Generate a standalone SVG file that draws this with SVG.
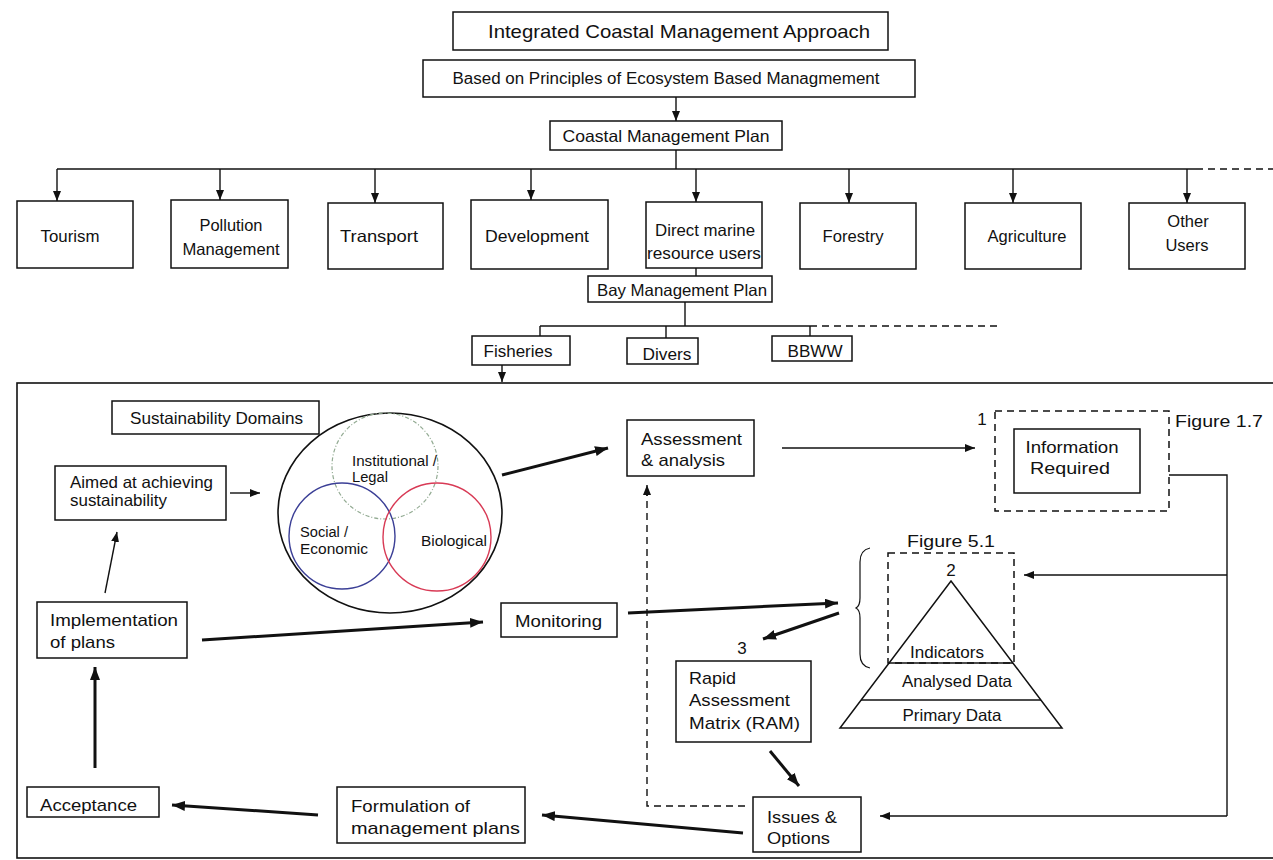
<svg xmlns="http://www.w3.org/2000/svg" width="1273" height="860" viewBox="0 0 1273 860">
<defs>
<marker id="a" markerUnits="userSpaceOnUse" markerWidth="10" markerHeight="8" refX="10" refY="4" orient="auto"><path d="M0,0 L10,4 L0,8 z" fill="#111"/></marker>
<marker id="b" markerUnits="userSpaceOnUse" markerWidth="13" markerHeight="10" refX="13" refY="5" orient="auto"><path d="M0,0 L13,5 L0,10 z" fill="#111"/></marker>
<style>
text{font-family:"Liberation Sans",Arial,sans-serif;fill:#111}
.box{fill:#fff;stroke:#111;stroke-width:1.5}
.dbox{fill:none;stroke:#111;stroke-width:1.5;stroke-dasharray:7 5}
.ln{fill:none;stroke:#111;stroke-width:1.4}
.th{fill:none;stroke:#111;stroke-width:3}
.dl{fill:none;stroke:#111;stroke-width:1.4;stroke-dasharray:7 5}
.t16{font-size:16.5px}
.t17{font-size:17px}
.t14{font-size:14px}
.t15{font-size:15px}
</style>
</defs>
<rect width="1273" height="860" fill="#fff"/>

<g id="connectors">
<line class="ln" x1="676" y1="97" x2="676" y2="121" marker-end="url(#a)"/>
<line class="ln" x1="676" y1="150" x2="676" y2="169"/>
<line class="ln" x1="57" y1="169" x2="1196" y2="169"/>
<line class="dl" x1="1196" y1="169" x2="1273" y2="169"/>
<line class="ln" x1="57" y1="169" x2="57" y2="201" marker-end="url(#a)"/>
<line class="ln" x1="220" y1="169" x2="220" y2="200" marker-end="url(#a)"/>
<line class="ln" x1="375" y1="169" x2="375" y2="203" marker-end="url(#a)"/>
<line class="ln" x1="531" y1="169" x2="531" y2="200" marker-end="url(#a)"/>
<line class="ln" x1="696" y1="169" x2="696" y2="202" marker-end="url(#a)"/>
<line class="ln" x1="849" y1="169" x2="849" y2="203" marker-end="url(#a)"/>
<line class="ln" x1="1013" y1="169" x2="1013" y2="203" marker-end="url(#a)"/>
<line class="ln" x1="1187" y1="169" x2="1187" y2="203" marker-end="url(#a)"/>
<line class="ln" x1="696" y1="268" x2="696" y2="276"/>
<line class="ln" x1="685" y1="302" x2="685" y2="326"/>
<line class="ln" x1="540" y1="326" x2="810" y2="326"/>
<line class="dl" x1="810" y1="326" x2="1000" y2="326"/>
<line class="ln" x1="540" y1="326" x2="540" y2="336"/>
<line class="ln" x1="666" y1="326" x2="666" y2="338"/>
<line class="ln" x1="810" y1="326" x2="810" y2="336"/>
<line class="ln" x1="502" y1="365" x2="502" y2="382" marker-end="url(#a)"/>

<line class="ln" x1="230" y1="493" x2="260" y2="493" marker-end="url(#a)"/>
<line class="th" x1="502" y1="475" x2="608" y2="448" marker-end="url(#b)"/>
<line class="ln" x1="782" y1="448" x2="975" y2="448" marker-end="url(#a)"/>
<line class="ln" x1="105" y1="593" x2="117" y2="532" marker-end="url(#a)"/>
<line class="th" x1="202" y1="640" x2="483" y2="622" marker-end="url(#b)"/>
<line class="th" x1="628" y1="613" x2="838" y2="603" marker-end="url(#b)"/>
<line class="th" x1="839" y1="613" x2="763" y2="639" marker-end="url(#b)"/>
<line class="th" x1="770" y1="751" x2="799" y2="786" marker-end="url(#b)"/>
<line class="th" x1="743" y1="833" x2="542" y2="815" marker-end="url(#b)"/>
<line class="th" x1="318" y1="815" x2="172" y2="805" marker-end="url(#b)"/>
<line class="th" x1="95" y1="768" x2="95" y2="667" marker-end="url(#b)"/>
<polyline class="dl" points="745,806 647,806 647,494"/>
<line class="ln" x1="647" y1="496" x2="647" y2="485" marker-end="url(#a)"/>
<polyline class="ln" points="1169,475 1227,475 1227,816"/>
<line class="ln" x1="1227" y1="575" x2="1024" y2="575" marker-end="url(#a)"/>
<line class="ln" x1="1227" y1="816" x2="880" y2="816" marker-end="url(#a)"/>
</g>

<g id="title"><rect class="box" x="453" y="12" width="435" height="38"/><text x="679" y="38" text-anchor="middle" font-size="19" textLength="382" lengthAdjust="spacingAndGlyphs">Integrated Coastal Management Approach</text></g>
<g id="principles"><rect class="box" x="423" y="60" width="492" height="37"/><text x="666" y="84" text-anchor="middle" font-size="16" textLength="427" lengthAdjust="spacingAndGlyphs">Based on Principles of Ecosystem Based Managmement</text></g>
<g id="coastal-plan"><rect class="box" x="550" y="121" width="232" height="29"/><text x="666" y="142" text-anchor="middle" font-size="16.5" textLength="207" lengthAdjust="spacingAndGlyphs">Coastal Management Plan</text></g>

<g id="tourism"><rect class="box" x="17" y="201" width="116" height="67"/><text class="t16" x="70" y="242" text-anchor="middle" textLength="59" lengthAdjust="spacingAndGlyphs">Tourism</text></g>
<g id="pollution"><rect class="box" x="171" y="200" width="117" height="68"/><text class="t16" x="231" y="231" text-anchor="middle" textLength="63" lengthAdjust="spacingAndGlyphs">Pollution</text><text class="t16" x="231" y="255" text-anchor="middle" textLength="97" lengthAdjust="spacingAndGlyphs">Management</text></g>
<g id="transport"><rect class="box" x="328" y="203" width="115" height="66"/><text class="t16" x="379" y="242" text-anchor="middle" textLength="78" lengthAdjust="spacingAndGlyphs">Transport</text></g>
<g id="development"><rect class="box" x="471" y="200" width="137" height="69"/><text class="t16" x="537" y="242" text-anchor="middle" textLength="104" lengthAdjust="spacingAndGlyphs">Development</text></g>
<g id="direct-marine"><rect class="box" x="646" y="202" width="116" height="66"/><text class="t16" x="705" y="236" text-anchor="middle" textLength="100" lengthAdjust="spacingAndGlyphs">Direct marine</text><text class="t16" x="704" y="259" text-anchor="middle" textLength="114" lengthAdjust="spacingAndGlyphs">resource users</text></g>
<g id="forestry"><rect class="box" x="800" y="203" width="116" height="66"/><text class="t16" x="853" y="242" text-anchor="middle" textLength="61" lengthAdjust="spacingAndGlyphs">Forestry</text></g>
<g id="agriculture"><rect class="box" x="965" y="203" width="116" height="66"/><text class="t16" x="1027" y="242" text-anchor="middle" textLength="79" lengthAdjust="spacingAndGlyphs">Agriculture</text></g>
<g id="other-users"><rect class="box" x="1129" y="203" width="116" height="66"/><text class="t16" x="1188" y="227" text-anchor="middle">Other</text><text class="t16" x="1187" y="251" text-anchor="middle">Users</text></g>

<g id="bay-plan"><rect class="box" x="588" y="276" width="184" height="26"/><text x="682" y="296" text-anchor="middle" font-size="16.5" textLength="170" lengthAdjust="spacingAndGlyphs">Bay Management Plan</text></g>
<g id="fisheries"><rect class="box" x="472" y="336" width="98" height="29"/><text class="t16" x="518" y="357" text-anchor="middle" textLength="69" lengthAdjust="spacingAndGlyphs">Fisheries</text></g>
<g id="divers"><rect class="box" x="627" y="338" width="71" height="26"/><text class="t16" x="667" y="360" text-anchor="middle" textLength="49" lengthAdjust="spacingAndGlyphs">Divers</text></g>
<g id="bbww"><rect class="box" x="772" y="336" width="80" height="25"/><text class="t16" x="815" y="357" text-anchor="middle" textLength="55" lengthAdjust="spacingAndGlyphs">BBWW</text></g>

<g id="frame"><rect x="17" y="383" width="1270" height="475" fill="none" stroke="#111" stroke-width="1.6"/></g>

<g id="sustainability-domains"><rect class="box" x="112" y="401" width="207" height="33"/><text class="t16" x="130" y="424" textLength="173" lengthAdjust="spacingAndGlyphs">Sustainability Domains</text></g>
<g id="aimed"><rect class="box" x="55" y="466" width="171" height="54"/><text class="t16" x="70" y="488" textLength="143" lengthAdjust="spacingAndGlyphs">Aimed at achieving</text><text class="t16" x="70" y="506" textLength="97" lengthAdjust="spacingAndGlyphs">sustainability</text></g>
<g id="domains">
<ellipse cx="390" cy="513" rx="112" ry="100" fill="none" stroke="#111" stroke-width="1.6"/>
<circle cx="385" cy="466" r="53" fill="none" stroke="#93ab93" stroke-width="1.2" stroke-dasharray="4 2 1 2"/>
<circle cx="342" cy="536" r="53" fill="none" stroke="#3b3f96" stroke-width="1.4"/>
<circle cx="437" cy="537" r="54" fill="none" stroke="#d83a55" stroke-width="1.4"/>
<text class="t14" x="352" y="466" textLength="85" lengthAdjust="spacingAndGlyphs">Institutional /</text>
<text class="t14" x="352" y="482" textLength="36" lengthAdjust="spacingAndGlyphs">Legal</text>
<text class="t14" x="300" y="537" textLength="48" lengthAdjust="spacingAndGlyphs">Social /</text>
<text class="t14" x="300" y="554" textLength="68" lengthAdjust="spacingAndGlyphs">Economic</text>
<text class="t14" x="421" y="546" textLength="66" lengthAdjust="spacingAndGlyphs">Biological</text>
</g>
<g id="assessment"><rect class="box" x="627" y="420" width="127" height="56"/><text class="t17" x="641" y="445" textLength="101" lengthAdjust="spacingAndGlyphs">Assessment</text><text class="t17" x="641" y="466" textLength="84" lengthAdjust="spacingAndGlyphs">&amp; analysis</text></g>
<g id="info-required">
<rect class="dbox" x="995" y="411" width="174" height="100"/>
<rect class="box" x="1014" y="429" width="126" height="64"/>
<text class="t16" x="1072" y="453" text-anchor="middle" textLength="93" lengthAdjust="spacingAndGlyphs">Information</text>
<text class="t16" x="1070" y="474" text-anchor="middle" textLength="80" lengthAdjust="spacingAndGlyphs">Required</text>
<text x="982" y="425" text-anchor="middle" font-size="17">1</text>
<text x="1175" y="427" font-size="17" textLength="88" lengthAdjust="spacingAndGlyphs">Figure 1.7</text>
</g>
<g id="implementation"><rect class="box" x="37" y="602" width="150" height="56"/><text class="t17" x="50" y="626" textLength="128" lengthAdjust="spacingAndGlyphs">Implementation</text><text class="t17" x="50" y="648" textLength="65" lengthAdjust="spacingAndGlyphs">of plans</text></g>
<g id="monitoring"><rect class="box" x="501" y="603" width="116" height="34"/><text class="t17" x="515" y="627" textLength="87" lengthAdjust="spacingAndGlyphs">Monitoring</text></g>
<g id="pyramid">
<path d="M870,548 Q860,550 860,562 L860,598 Q860,606 856,608 Q860,610 860,618 L860,654 Q860,666 870,668" fill="none" stroke="#111" stroke-width="1.2"/>
<text x="951" y="547" text-anchor="middle" font-size="17" textLength="88" lengthAdjust="spacingAndGlyphs">Figure 5.1</text>
<rect class="dbox" x="888" y="553" width="126" height="110"/>
<text x="951" y="576" text-anchor="middle" font-size="17">2</text>
<polygon points="951,581 1062,728 840,728" fill="none" stroke="#111" stroke-width="1.5"/>
<line class="ln" x1="889" y1="663" x2="1013" y2="663"/>
<line class="ln" x1="861" y1="700" x2="1041" y2="700"/>
<text class="t16" x="947" y="658" text-anchor="middle" textLength="74" lengthAdjust="spacingAndGlyphs">Indicators</text>
<text class="t16" x="957" y="687" text-anchor="middle" textLength="110" lengthAdjust="spacingAndGlyphs">Analysed Data</text>
<text class="t16" x="952" y="721" text-anchor="middle" textLength="99" lengthAdjust="spacingAndGlyphs">Primary Data</text>
</g>
<g id="ram"><text x="742" y="654" text-anchor="middle" font-size="17">3</text><rect class="box" x="676" y="661" width="135" height="81"/><text class="t17" x="689" y="684" textLength="47" lengthAdjust="spacingAndGlyphs">Rapid</text><text class="t17" x="689" y="706" textLength="101" lengthAdjust="spacingAndGlyphs">Assessment</text><text class="t17" x="689" y="729" textLength="111" lengthAdjust="spacingAndGlyphs">Matrix (RAM)</text></g>
<g id="issues"><rect class="box" x="753" y="797" width="108" height="55"/><text class="t17" x="767" y="823" textLength="70" lengthAdjust="spacingAndGlyphs">Issues &amp;</text><text class="t17" x="767" y="844" textLength="63" lengthAdjust="spacingAndGlyphs">Options</text></g>
<g id="formulation"><rect class="box" x="337" y="787" width="188" height="56"/><text class="t17" x="351" y="812" textLength="119" lengthAdjust="spacingAndGlyphs">Formulation of</text><text class="t17" x="351" y="834" textLength="169" lengthAdjust="spacingAndGlyphs">management plans</text></g>
<g id="acceptance"><rect class="box" x="27" y="787" width="132" height="30"/><text class="t17" x="40" y="811" textLength="97" lengthAdjust="spacingAndGlyphs">Acceptance</text></g>
</svg>
